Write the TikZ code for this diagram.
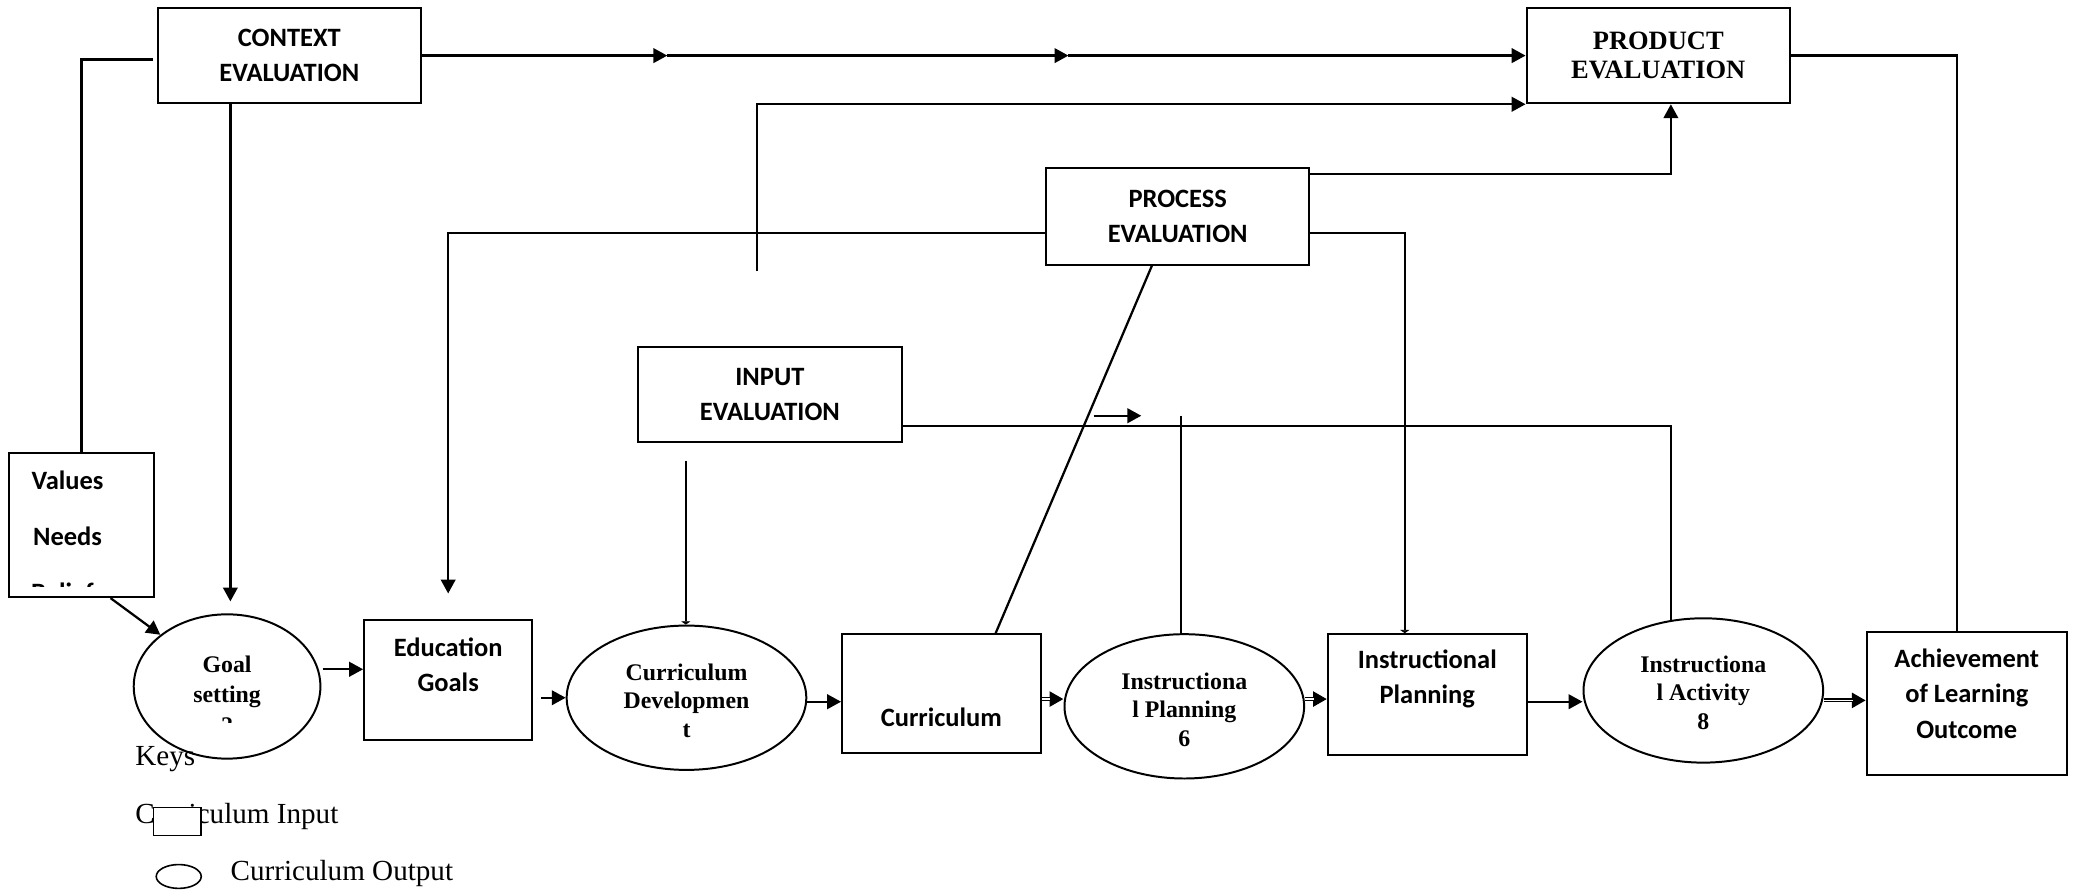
\documentclass[tikz,border=0pt]{standalone}
\usepackage{fontspec}
\setmainfont{Liberation Serif}
\newfontfamily\calfont{Carlito}
\usetikzlibrary{shapes.geometric,arrows.meta,calc}

\begin{document}
\begin{tikzpicture}[x=1pt,y=-1pt,line cap=butt,line join=miter,
  >={Triangle[length=10.5pt,width=11pt]},
  link/.style={line width=1.7pt},
  stub/.style={-{Triangle[length=2.5pt,width=7pt]}},
  dbl/.style={line width=3pt,->,postaction={draw=white,line width=0.9pt,arrows=-,shorten >=10pt}},
  evalbox/.style={draw,line width=1.5pt,minimum width=199pt,minimum height=72pt,inner sep=0pt,align=center},
  stepbox/.style={draw,line width=1.5pt,inner sep=0pt},
  stepoval/.style={draw,ellipse,line width=1.5pt,inner sep=0pt,minimum width=181pt,minimum height=109pt},
  caltxt/.style={font=\calfont\bfseries\fontsize{20}{26.5}\selectfont,align=center,inner sep=0pt},
  tmstxt/.style={font=\bfseries\fontsize{18}{21.5}\selectfont,align=center,inner sep=0pt},
  keytxt/.style={font=\fontsize{22}{26}\selectfont,anchor=west,inner sep=0pt}]
  \useasboundingbox (0,0) rectangle (1568,674);
  \node[evalbox,font=\calfont\bfseries\fontsize{20}{26}\selectfont] (ctx) at (218.5,42) {CONTEXT\\EVALUATION};
  \node[evalbox,font=\bfseries\fontsize{20}{22}\selectfont] (prod) at (1252.5,42) {PRODUCT\\EVALUATION};
  \node[evalbox,minimum height=73pt,font=\calfont\bfseries\fontsize{20}{26}\selectfont] (proc) at (889.5,163.5) {PROCESS\\EVALUATION};
  \node[evalbox,font=\calfont\bfseries\fontsize{20}{26}\selectfont] (inp) at (581.5,298) {INPUT\\EVALUATION};
  \node[stepbox,minimum width=109pt,minimum height=109pt] (vals) at (61.5,396.5) {};
  \begin{scope}
    \clip (7,342) rectangle (116,443);
    \node[caltxt,font=\calfont\bfseries\fontsize{20}{42}\selectfont] (vals-t) at (51,405) {Values\\Needs\\Beliefs};
  \end{scope}
  \node[stepoval,minimum width=141pt] (goal) at (171.5,518.5) {};
  \begin{scope}
    \clip (101,460) rectangle (242,546);
    \node[tmstxt,font=\bfseries\fontsize{18}{23}\selectfont] (goal-t) at (171.5,524.5) {Goal\\setting\\2};
  \end{scope}
  \node[stepbox,minimum width=127pt,minimum height=91pt] (edu) at (338.5,513.5) {};
  \node[caltxt] (edu-t) at (338.5,502) {Education\\Goals};
  \node[stepoval] (cdev) at (518.5,527) {};
  \node[tmstxt] (cdev-t) at (518.5,529) {Curriculum\\Developmen\\t};
  \node[stepbox,minimum width=150pt,minimum height=90pt] (curr) at (711,524) {};
  \node[caltxt] (curr-t) at (711,542) {Curriculum};
  \node[stepoval] (iplanE) at (894.5,533.5) {};
  \node[tmstxt] (iplanE-t) at (894.5,536) {Instructiona\\l Planning\\6};
  \node[stepbox,minimum width=150pt,minimum height=91pt] (iplan) at (1078,524.5) {};
  \node[caltxt] (iplan-t) at (1078,512.5) {Instructional\\Planning};
  \node[stepoval] (iact) at (1286.5,521.5) {};
  \node[tmstxt] (iact-t) at (1286.5,523) {Instructiona\\l Activity\\8};
  \node[stepbox,minimum width=151pt,minimum height=108pt] (ach) at (1485.5,531) {};
  \node[caltxt] (ach-t) at (1485.5,524) {Achievement\\of Learning\\Outcome};
  \node[keytxt] (keys) at (102,573) {Keys};
  \node[keytxt] (kin) at (102,617) {Curriculum Input};
  \node[draw,fill=white,line width=1.2pt,minimum width=36pt,minimum height=21pt,inner sep=0pt] (kbox) at (134,620.5) {};
  \node[draw,ellipse,line width=1.2pt,minimum width=34pt,minimum height=18pt,inner sep=0pt] (koval) at (135,662) {};
  \node[keytxt] (kout) at (174,660) {Curriculum Output};
  \coordinate (m1) at (504,42);
  \coordinate (m2) at (807,42);
  \coordinate (pin) at (572,205);
  \coordinate (sa) at (826,314);
  \coordinate (sb) at (862,314);
  \coordinate (vt) at (892,314);
  \coordinate (it) at (518,348);
  \draw[link,->] (ctx.east) -- (m1);
  \draw[link,->] (m1) -- (m2);
  \draw[link,->] (m2) -- (prod.west);
  \draw[link] ([xshift=-3pt,yshift=-3pt]ctx.west) -| (vals.north);
  \draw[link,->,shorten >=9pt] (ctx.south -| 174,0) -- (174,0 |- goal.north);
  \draw[link,->] ([xshift=22pt]vals.south) -- (goal.north west);
  \draw[link,->] (pin) |- (prod.south west);
  \draw[link,->] ([yshift=-5pt]proc.north east) -| ([xshift=9.5pt]prod.south);
  \draw[link] (prod.east) -| ([xshift=-7.5pt]ach.north);
  \draw[link,->,shorten >=19pt] ([yshift=-12.5pt]proc.west) -| (edu.north);
  \draw[link,stub] ([yshift=-12.5pt]proc.east) -| ([xshift=-17pt]iplan.north);
  \draw[link] ([xshift=-19.5pt]proc.south) -- ([xshift=41pt]curr.north);
  \draw[link] ([yshift=13pt]inp.south east) -| ([xshift=-24.5pt,yshift=-2pt]iact.north);
  \draw[link,->] (sa) -- (sb);
  \draw[link] (vt) -- (vt |- iplanE.north);
  \draw[link,stub] (it) -- (it |- cdev.north);
  \draw[link,->] ($(goal.east)+(1,-13)$) -- ($(goal.east -| edu.west)+(0,-13)$);
  \draw[link,->] ($(edu.east |- cdev.west)+(6,0)$) -- (cdev.west);
  \draw[link,->] ($(cdev.east)+(0,3)$) -- ($(cdev.east -| curr.west)+(0,3)$);
  \draw[dbl] ($(curr.east)+(0,4)$) -- ($(curr.east -| iplanE.west)+(0,4)$);
  \draw[dbl] ($(iplanE.east)+(0,-5.5)$) -- ($(iplanE.east -| iplan.west)+(0,-5.5)$);
  \draw[link,->] ($(iplan.east)+(0,5.5)$) -- ($(iplan.east -| iact.west)+(0,5.5)$);
  \draw[dbl] ($(iact.east)+(0,7.5)$) -- ($(iact.east -| ach.west)+(0,7.5)$);
\end{tikzpicture}
\end{document}
